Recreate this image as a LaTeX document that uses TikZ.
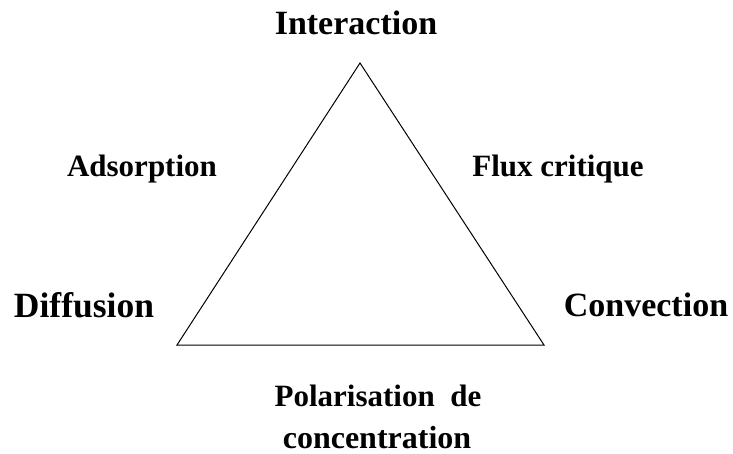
\documentclass[tikz,border=0pt]{standalone}
\usepackage{fontspec}
\setmainfont{Liberation Serif}
\tikzset{
  big/.style={font=\fontsize{34}{40}\selectfont\bfseries, anchor=base, inner sep=0pt},
  small/.style={font=\fontsize{31}{36}\selectfont\bfseries, anchor=base, inner sep=0pt},
  edge/.style={line width=1pt, line join=miter}
}
\begin{document}
\begin{tikzpicture}[x=1pt,y=-1pt]
\useasboundingbox (0,0) rectangle (733,454);
\coordinate (T) at (360,63);
\coordinate (L) at (177,345);
\coordinate (R) at (544,345);
\draw[edge] (T) -- (L) -- (R) -- cycle;
\node[big] (inter) at (356,35) {Interaction};
\node[big, font=\fontsize{35.5}{40}\selectfont\bfseries] (diff) at (84,317) {Diffusion};
\node[big] (conv) at (646,316) {Convection};
\node[small] (ads) at (142,177) {Adsorption};
\node[small] (flux) at (558,177) {Flux critique};
\node[small] (pol) at (378,406) {Polarisation\ \ de};
\node[small, font=\fontsize{32}{36}\selectfont\bfseries] (conc) at (377,448) {concentration};
\end{tikzpicture}
\end{document}
